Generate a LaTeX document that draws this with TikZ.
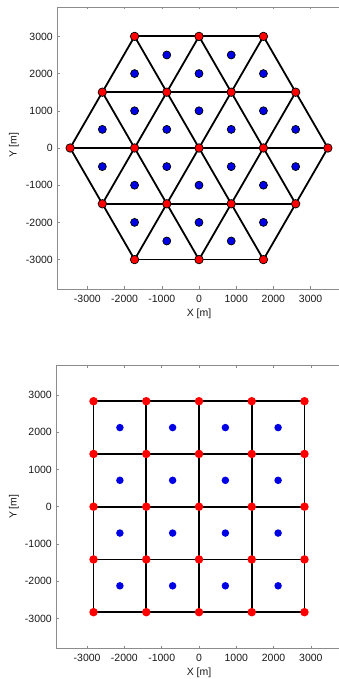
\documentclass[tikz,border=0pt]{standalone}
\usepackage{fontspec}
\setmainfont{Liberation Sans}
\begin{document}
\begin{tikzpicture}[x=1pt,y=1pt,
  axisline/.style={draw=black!45,line width=0.6pt},
  tickmark/.style={draw=black!45,line width=0.5pt},
  ticklab/.style={font=\fontsize{10.5}{11}\selectfont,text=black!90,inner sep=0pt},
  axlab/.style={font=\fontsize{10.5}{11}\selectfont,text=black!90,inner sep=0pt},
  edge/.style={draw=black,line width=1.8pt},
  reddot/.style={circle,fill=red,draw=black,line width=0.7pt,minimum size=8.5pt,inner sep=0pt},
  bluedot/.style={circle,fill=blue!90!black,draw=black,line width=0.7pt,minimum size=8pt,inner sep=0pt},
  redflat/.style={circle,fill=red,minimum size=8.5pt,inner sep=0pt},
  blueflat/.style={circle,fill=blue!90!black,minimum size=7.5pt,inner sep=0pt}]
\useasboundingbox (0,0) rectangle (339,679);

% ================= TOP: hexagonal layout =================
\begin{scope}[xshift=199pt,yshift=531pt,x=0.0372pt,y=0.0372pt]
  \draw[axisline] (-3817,-3790) rectangle (3817,3790);
  \foreach \t [count=\n] in {-3000,-2000,...,3000}{
    \draw[tickmark] (\t,-3790) -- ++(0pt,2.5pt);
    \draw[tickmark] (\t,3790) -- ++(0pt,-2.5pt);
    \draw[tickmark] (-3817,\t) -- ++(2.5pt,0pt);
    \draw[tickmark] (3817,\t) -- ++(-2.5pt,0pt);
    \node[ticklab,anchor=center] (txa\n) at ([yshift=-10pt]\t,-3790) {\t};
    \node[ticklab,anchor=east] (tya\n) at ([xshift=-4pt]-3817,\t) {\t};
  }
  \node[axlab] (xla) at ([yshift=-24.5pt]0,-3790) {X [m]};
  \node[axlab,rotate=90] (yla) at ([xshift=-43pt]-3817,80) {Y [m]};

  % red vertices: hIK at x=1732(I-2)+866(K-2), y=1500(K-2)
  \foreach \I/\K in {2/0,3/0,4/0, 1/1,2/1,3/1,4/1, 0/2,1/2,2/2,3/2,4/2, 0/3,1/3,2/3,3/3, 0/4,1/4,2/4}{
    \coordinate (h\I\K) at ({1732*(\I-2)+866*(\K-2)},{1500*(\K-2)});
  }
  % edges
  \foreach \a/\b in {h20/h40,h11/h41,h02/h42,h03/h33,h04/h24,
                     h02/h04,h11/h14,h20/h24,h30/h33,h40/h42,
                     h20/h02,h30/h03,h40/h04,h41/h14,h42/h24}{
    \draw[edge] (\a) -- (\b);
  }
  % blue centroids
  \foreach \x/\y [count=\n] in {-866/2500,866/2500,
      -1732/2000,0/2000,1732/2000,
      -1732/1000,0/1000,1732/1000,
      -2598/500,-866/500,866/500,2598/500,
      -2598/-500,-866/-500,866/-500,2598/-500,
      -1732/-1000,0/-1000,1732/-1000,
      -1732/-2000,0/-2000,1732/-2000,
      -866/-2500,866/-2500}{
    \node[bluedot] (bh\n) at (\x,\y) {};
  }
  \foreach \I/\K in {2/0,3/0,4/0, 1/1,2/1,3/1,4/1, 0/2,1/2,2/2,3/2,4/2, 0/3,1/3,2/3,3/3, 0/4,1/4,2/4}{
    \node[reddot] (rh\I\K) at (h\I\K) {};
  }
\end{scope}

% ================= BOTTOM: square layout =================
\begin{scope}[xshift=199pt,yshift=172.3pt,x=0.0373pt,y=0.0373pt]
  \draw[axisline] (-3834,-3796) rectangle (3834,3799);
  \foreach \t [count=\n] in {-3000,-2000,...,3000}{
    \draw[tickmark] (\t,-3796) -- ++(0pt,2.5pt);
    \draw[tickmark] (\t,3799) -- ++(0pt,-2.5pt);
    \draw[tickmark] (-3834,\t) -- ++(2.5pt,0pt);
    \draw[tickmark] (3834,\t) -- ++(-2.5pt,0pt);
    \node[ticklab,anchor=center] (txb\n) at ([yshift=-9.5pt]\t,-3796) {\t};
    \node[ticklab,anchor=east] (tyb\n) at ([xshift=-4pt]-3834,\t) {\t};
  }
  \node[axlab] (xlb) at ([yshift=-24.5pt]0,-3796) {X [m]};
  \node[axlab,rotate=90] (ylb) at ([xshift=-42pt]-3834,0) {Y [m]};

  \foreach \i in {0,...,4}{
    \foreach \j in {0,...,4}{
      \coordinate (s\i\j) at ({1414.2*(\i-2)},{1414.2*(\j-2)});
    }
  }
  \foreach \i in {0,...,4}{
    \draw[edge] (s0\i) -- (s4\i);
    \draw[edge] (s\i0) -- (s\i4);
  }
  \foreach \i in {0,...,3}{
    \foreach \j in {0,...,3}{
      \node[blueflat] (bs\i\j) at ({1414.2*(\i-1.5)},{1414.2*(\j-1.5)}) {};
    }
  }
  \foreach \i in {0,...,4}{
    \foreach \j in {0,...,4}{
      \node[redflat] (rs\i\j) at (s\i\j) {};
    }
  }
\end{scope}
\end{tikzpicture}
\end{document}
